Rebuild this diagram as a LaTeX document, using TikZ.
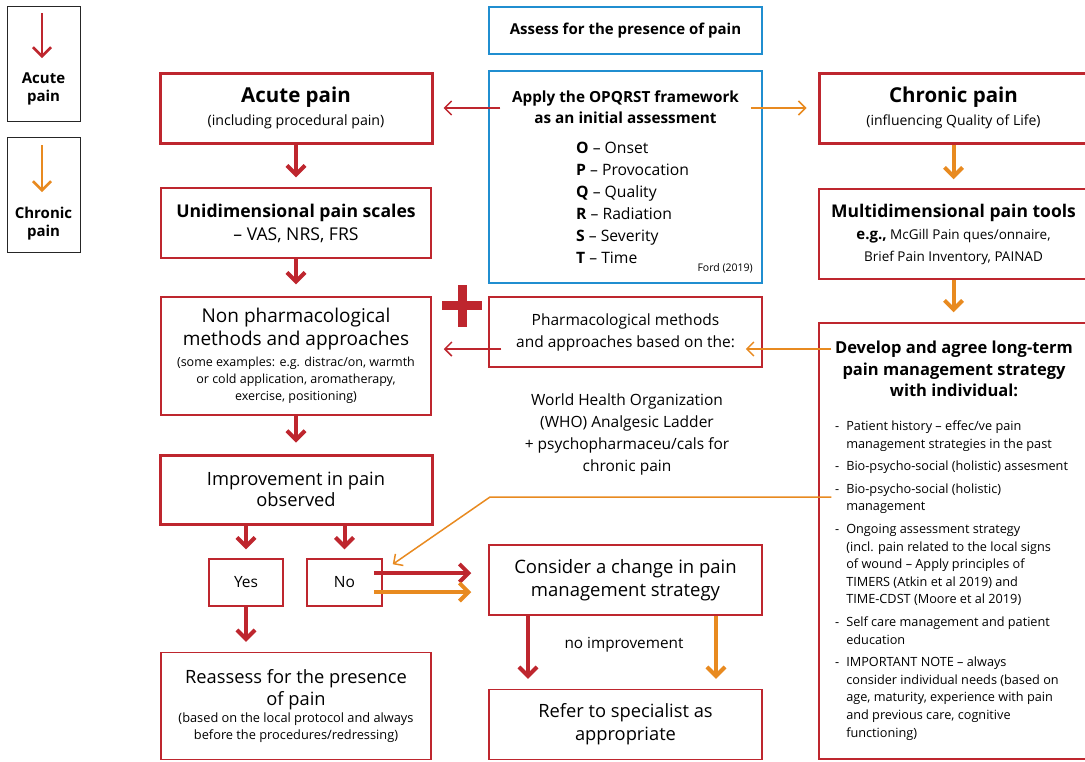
\documentclass[tikz,border=0pt]{standalone}
\usepackage{fontspec}
\setmainfont{Open Sans}
\usetikzlibrary{arrows.meta}

\definecolor{painred}{RGB}{190,38,46}
\definecolor{painorange}{RGB}{232,138,32}
\definecolor{painblue}{RGB}{32,142,208}
\newcommand{\fs}[2]{\fontsize{#1}{#2}\selectfont}

\begin{document}
\begin{tikzpicture}[
			x=1pt, y=-1pt,
			thickbox/.style={draw=painred, line width=3pt, minimum width=272pt, minimum height=70pt, align=center, inner sep=0pt},
			thinbox/.style={draw=painred, line width=1.5pt, minimum width=270pt, minimum height=70pt, align=center, inner sep=0pt},
			bluebox/.style={draw=painblue, line width=1.5pt, minimum width=273pt, align=center, inner sep=0pt},
			legendbox/.style={draw=black!85, line width=1pt, minimum width=73pt, minimum height=115pt},
			plaintext/.style={align=center, inner sep=0pt},
			redflow/.style={draw=painred, line width=4pt, -{Straight Barb[length=9pt, width=18pt]}, shorten >=10pt},
			orangeflow/.style={draw=painorange, line width=4pt, -{Straight Barb[length=9pt, width=18pt]}, shorten >=10pt},
			redlink/.style={draw=painred, line width=1.5pt, -{Straight Barb[length=7pt, width=14pt]}},
			orangelink/.style={draw=painorange, line width=1.5pt, -{Straight Barb[length=7pt, width=14pt]}},
			legendarrow/.style={line width=2.5pt, -{Straight Barb[length=9pt, width=18pt]}}
		]
		\useasboundingbox (0,0) rectangle (1085,761);

		% legend
		\node[legendbox] (legacute) at (43.5,63.5) {};
		\node[plaintext, font=\fs{15}{18}\bfseries] (legacutetxt) at (43.5,89) {Acute\\pain};
		\coordinate (legacutetop) at (42,13);
		\coordinate (legacuteend) at (42,58);
		\draw[legendarrow, painred] (legacutetop) -- (legacuteend);
		\node[legendbox] (legchronic) at (43.5,195) {};
		\node[plaintext, font=\fs{15}{18}\bfseries] (legchronictxt) at (43.5,223.5) {Chronic\\pain};
		\coordinate (legchronictop) at (42,145);
		\coordinate (legchronicend) at (42,192);
		\draw[legendarrow, painorange] (legchronictop) -- (legchronicend);

		% centre column
		\node[bluebox, minimum height=47pt, font=\fs{15}{16}\bfseries] (assess) at (625.5,30.5) {Assess for the presence of pain};
		\node[bluebox, minimum height=212pt] (opqrst) at (625.5,177) {};
		\node[plaintext, font=\fs{15.3}{21}\bfseries] (opqtitle) at (625.5,107.5) {Apply the OPQRST framework\\as an initial assessment};
		\node[align=left, anchor=west, inner sep=0pt, font=\fs{15.7}{22}] (opqlist) at (576,203) {\textbf{O} -- Onset\\\textbf{P} -- Provocation\\\textbf{Q} -- Quality\\\textbf{R} -- Radiation\\\textbf{S} -- Severity\\\textbf{T} -- Time};
		\node[anchor=east, inner sep=0pt, font=\fs{10.5}{12}] (ford) at (753,268) {Ford (2019)};

		\node[thinbox, minimum width=273pt, font=\fs{15.5}{22}] (pharma) at (625.5,332) {Pharmacological methods\\and approaches based on the:};
		\node[plaintext, font=\fs{15.5}{22}] (who) at (627,434) {World Health Organization\\(WHO) Analgesic Ladder\\+ psychopharmaceu/cals for\\chronic pain};
		\fill[painred] (442,300.5) rectangle (482,309.5);
		\fill[painred] (457.5,285) rectangle (466.5,327);

		\node[thinbox, minimum width=273pt, font=\fs{18.5}{23}] (consider) at (625.5,580) {Consider a change in pain\\management strategy};
		\node[plaintext, font=\fs{15.3}{16}] (noimprove) at (624,645) {no improvement};
		\node[thinbox, minimum width=273pt, font=\fs{18.3}{23}] (refer) at (625.5,724.5) {Refer to specialist as\\appropriate};

		% acute column
		\node[thickbox, font=\fs{14.2}{23}] (acute) at (296,108) {{\fs{20.5}{23}\bfseries Acute pain}\\(including procedural pain)};
		\node[thinbox, font=\fs{17.6}{23}] (unidim) at (296,223) {\textbf{Unidimensional pain scales}\\-- VAS, NRS, FRS};
		\node[thinbox, minimum height=118pt, font=\fs{12.5}{17}] (nonpharm) at (296,356) {{\fs{19}{24}Non pharmacological}\\[3.5pt]{\fs{19}{24}methods and approaches}\\[4pt](some examples: e.g. distrac/on, warmth\\or cold application, aromatherapy,\\exercise, positioning)};
		\node[thickbox, minimum height=69pt, font=\fs{18.3}{21}] (improve) at (296,489.5) {Improvement in pain\\observed};
		\node[thinbox, minimum width=74pt, minimum height=47pt, font=\fs{15.5}{18}] (yes) at (246,582.5) {Yes};
		\node[thinbox, minimum width=75pt, minimum height=47pt, font=\fs{15.5}{18}] (no) at (344.5,582.5) {No};
		\node[thinbox, minimum height=107pt, font=\fs{12.8}{17}] (reassess) at (296,706) {{\fs{18.3}{23}Reassess for the presence}\\[3pt]{\fs{18.3}{23}of pain}\\(based on the local protocol and always\\before the procedures/redressing)};

		% chronic column
		\node[thickbox, minimum width=269pt, font=\fs{14}{23}] (chronic) at (953.5,108) {{\fs{20.5}{23}\bfseries Chronic pain}\\(influencing Quality of Life)};
		\node[thinbox, minimum width=269pt, minimum height=90pt, font=\fs{13.5}{22}] (multi) at (953.5,234) {{\fs{17.5}{22}\bfseries Multidimensional pain tools}\\{\fs{15}{22}\bfseries e.g.,} McGill Pain ques/onnaire,\\Brief Pain Inventory, PAINAD};
		\node[thinbox, minimum width=269pt, minimum height=436pt] (develop) at (953.5,541) {};
		\node[plaintext, font=\fs{16.5}{21.5}\bfseries] (devtitle) at (954,369) {Develop and agree long-term\\pain management strategy\\with individual:};
		\node[anchor=north west, inner sep=0pt, font=\fs{12.7}{17.6}] (devlist) at (835,418) {%
			\begin{tabular}{@{}l@{\hspace{7pt}}l@{}}
				- & Patient history -- effec/ve pain\\
				  & management strategies in the past\\[5pt]
				- & Bio-psycho-social (holistic) assesment\\[5pt]
				- & Bio-psycho-social (holistic)\\
				  & management\\[5pt]
				- & Ongoing assessment strategy\\
				  & (incl. pain related to the local signs\\
				  & of wound -- Apply principles of\\
				  & TIMERS (Atkin et al 2019) and\\
				  & TIME-CDST (Moore et al 2019)\\[5pt]
				- & Self care management and patient\\
				  & education\\[5pt]
				- & IMPORTANT NOTE -- always\\
				  & consider individual needs (based on\\
				  & age, maturity, experience with pain\\
				  & and previous care, cognitive\\
				  & functioning)
			\end{tabular}};

		% connectors
		\draw[redlink, shorten <=-12pt, shorten >=10pt] (acute.east -| opqrst.west) -- (acute.east);
		\draw[orangelink, shorten <=-12pt, shorten >=11pt] (chronic.west -| opqrst.east) -- (chronic.west);
		\draw[redflow] (acute) -- (unidim);
		\draw[redflow, shorten >=12pt] (unidim) -- (nonpharm);
		\draw[redflow, shorten >=11pt] (nonpharm) -- (improve);
		\draw[redflow, shorten >=9pt] (improve.south -| yes) -- (yes);
		\draw[redflow, shorten >=9pt] (improve.south -| no) -- (no);
		\draw[redflow] (yes) -- (yes |- reassess.north);
		\draw[redflow, shorten >=17pt, shorten <=-9pt] ([yshift=9.5pt]no.east) -- ([yshift=9.5pt]no.east -| consider.west);
		\draw[orangeflow, shorten >=17pt, shorten <=-9pt] ([yshift=-9.5pt]no.east) -- ([yshift=-9.5pt]no.east -| consider.west);
		\draw[redflow] ([xshift=-97.5pt]consider.south) -- ([xshift=-97.5pt]refer.north);
		\draw[orangeflow] ([xshift=90.5pt]consider.south) -- ([xshift=90.5pt]refer.north);
		\draw[redlink, shorten <=-13pt, shorten >=12pt] ([yshift=-17pt]pharma.west) -- ([yshift=-17pt]pharma.west -| nonpharm.east);
		\draw[orangeflow, shorten >=9pt] (chronic) -- (multi);
		\draw[orangeflow, shorten >=10pt] (multi) -- (develop);
		\draw[orangelink, shorten <=-13pt] ([yshift=-17pt]pharma.east -| develop.west) -- ([xshift=-17pt,yshift=-17pt]pharma.east);
		\coordinate (bend) at (490,497);
		\draw[orangelink, shorten <=-13pt] (bend -| develop.west) -- (bend) -- ([xshift=10pt,yshift=-6pt]no.north east);
	\end{tikzpicture}
\end{document}
